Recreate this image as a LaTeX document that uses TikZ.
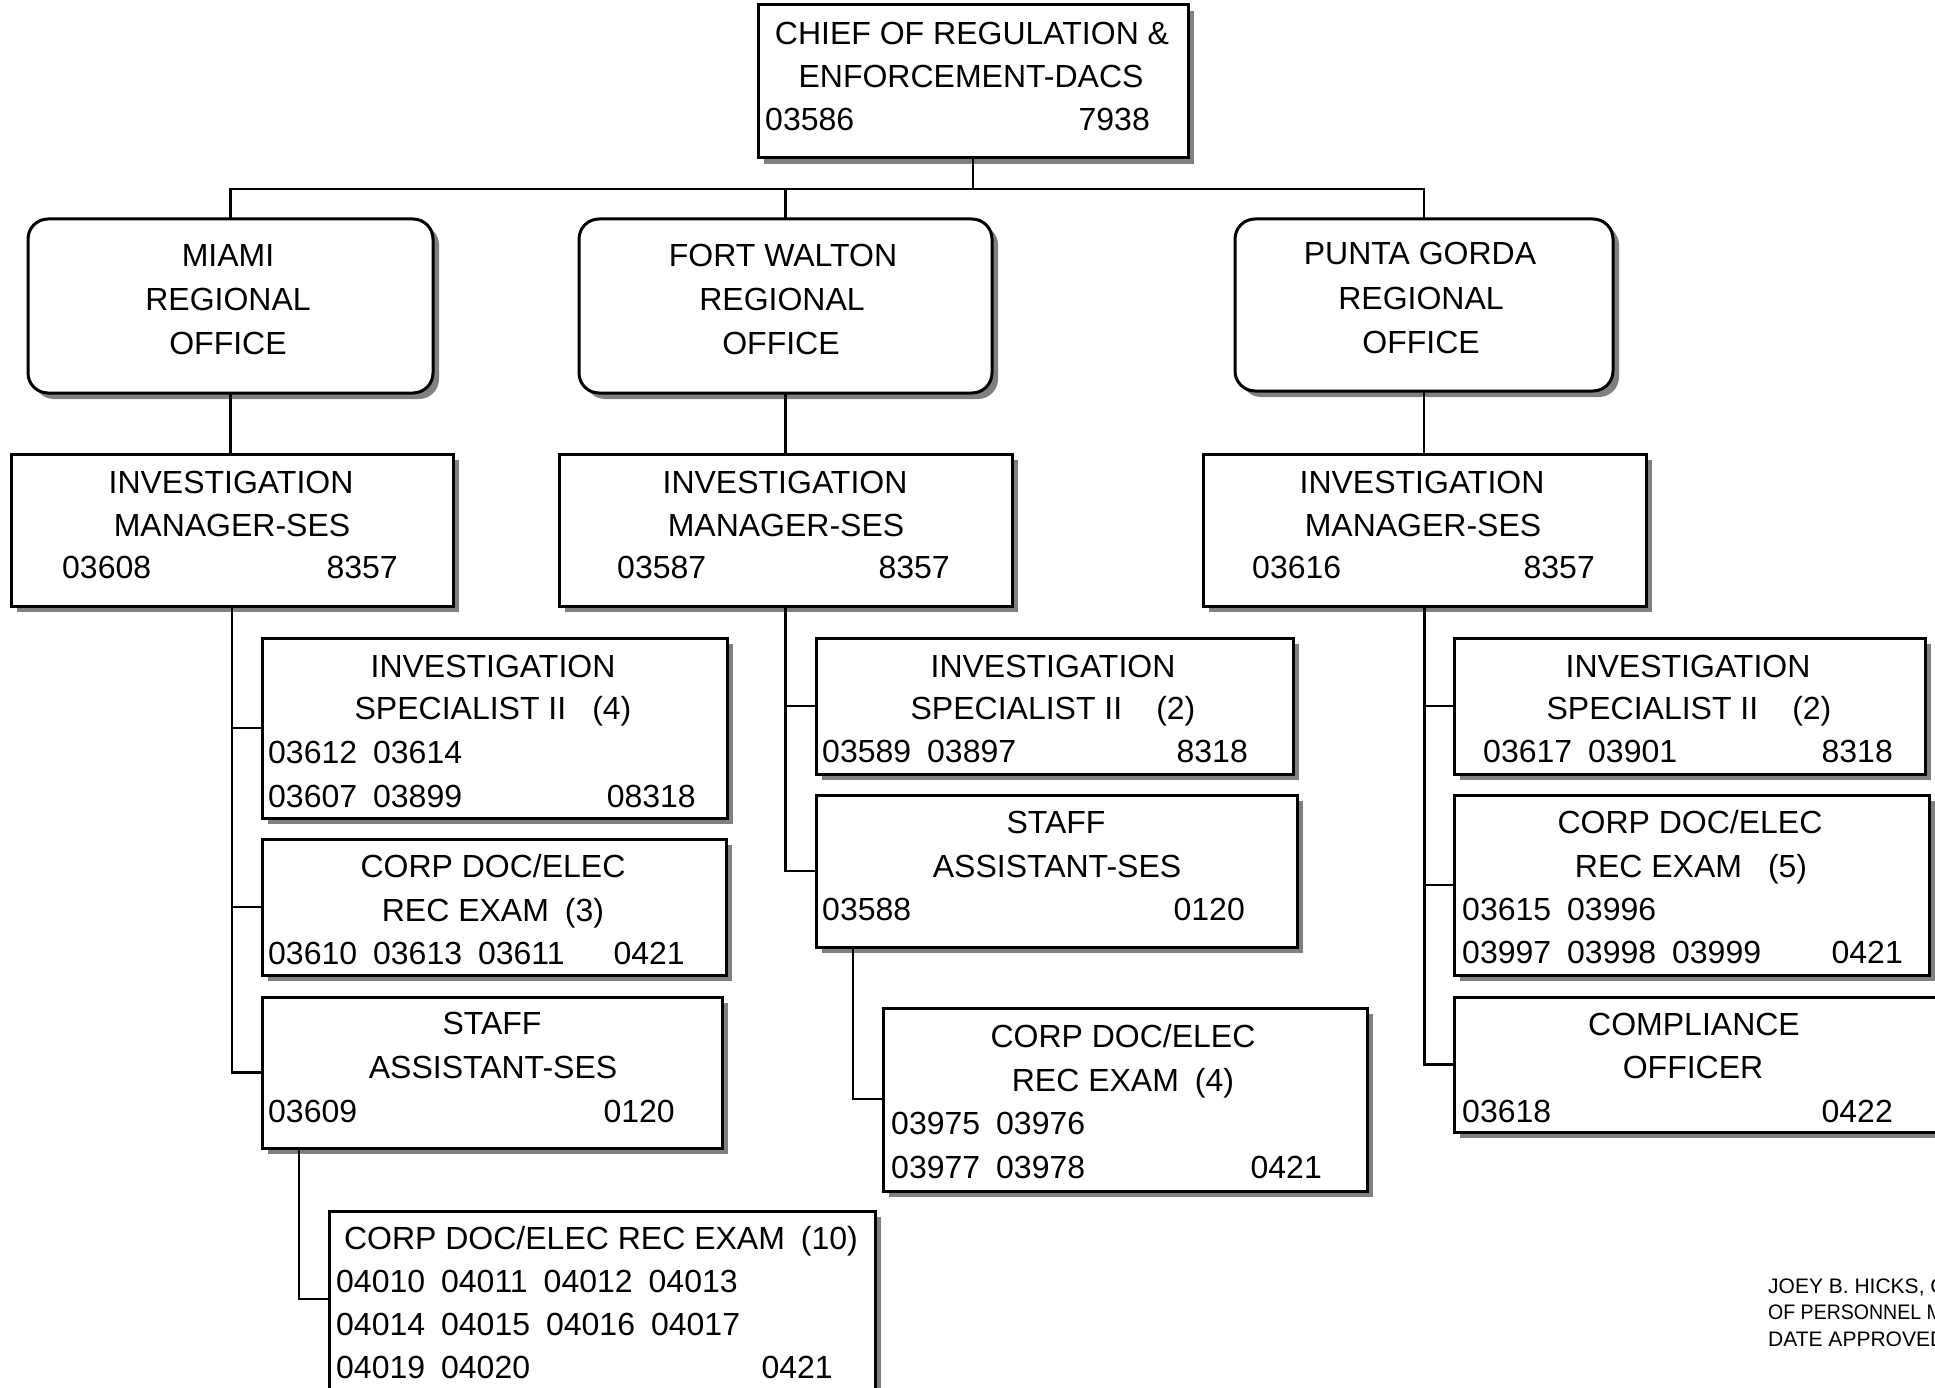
\documentclass[tikz,border=0pt]{standalone}
\usepackage{fontspec}
\setmainfont{Liberation Sans}
\usetikzlibrary{shadows}

\newcommand\orgfont{\fontsize{32}{38}\selectfont}
\newcommand\notefont{\fontsize{21}{25}\selectfont}
\newcommand\gap{\hspace{16pt}}

\tikzset{
  box/.style={rectangle, draw=black, line width=3pt, fill=white,
    inner sep=0pt, outer sep=0pt, anchor=north west,
    drop shadow={shadow xshift=6pt, shadow yshift=-6pt, fill=black!50, opacity=1}},
  rbox/.style={box, rounded corners=20pt},
  conn/.style={draw=black, line width=2.6pt},
  ttl/.style={anchor=base, inner sep=0pt, font=\orgfont},
  codel/.style={anchor=base west, inner sep=0pt, font=\orgfont},
  coder/.style={anchor=base east, inner sep=0pt, font=\orgfont},
  signoff/.style={anchor=base west, inner sep=0pt, font=\notefont},
}

\begin{document}
\begin{tikzpicture}[x=1pt, y=-1pt]
\fill[white] (0,0) rectangle (1935,1388);
\useasboundingbox (0,0) rectangle (1935,1388);

% ---------- boxes ----------
\node[box,  minimum width=430pt, minimum height=153pt] (chief)   at (758,5) {};
\node[rbox, minimum width=405pt, minimum height=174pt] (miamiR)  at (28,219) {};
\node[rbox, minimum width=413pt, minimum height=174pt] (fwR)     at (579,219) {};
\node[rbox, minimum width=378pt, minimum height=172pt] (pgR)     at (1235,219) {};
\node[box,  minimum width=442pt, minimum height=152pt] (miamiM)  at (11,454) {};
\node[box,  minimum width=453pt, minimum height=152pt] (fwM)     at (559,454) {};
\node[box,  minimum width=443pt, minimum height=152pt] (pgM)     at (1203,454) {};
\node[box,  minimum width=465pt, minimum height=180pt] (specM)   at (262,638) {};
\node[box,  minimum width=464pt, minimum height=136pt] (corpM)   at (262,839) {};
\node[box,  minimum width=460pt, minimum height=151pt] (staffM)  at (262,997) {};
\node[box,  minimum width=546pt, minimum height=219pt] (corpTen) at (329,1211) {};
\node[box,  minimum width=477pt, minimum height=136pt] (specF)   at (816,638) {};
\node[box,  minimum width=481pt, minimum height=152pt] (staffF)  at (816,795) {};
\node[box,  minimum width=484pt, minimum height=183pt] (corpF)   at (883,1008) {};
\node[box,  minimum width=471pt, minimum height=136pt] (specP)   at (1454,638) {};
\node[box,  minimum width=475pt, minimum height=180pt] (corpP)   at (1454,795) {};
\node[box,  minimum width=496pt, minimum height=135pt] (compP)   at (1454,997) {};

% ---------- junction points ----------
\coordinate (bus) at (973,189);
\coordinate (jM) at (299,1299);
\coordinate (jF) at (853,1099);

% ---------- connectors ----------
\draw[conn] (chief.south) -- (chief.south |- bus);
\draw[conn] (miamiR.north) |- (bus) -| (pgR.north);
\draw[conn] (fwR.north) -- (fwR.north |- bus);
\draw[conn] (miamiR.south) -- (miamiR.south |- miamiM.north);
\draw[conn] (fwR.south) -- (fwR.south |- fwM.north);
\draw[conn] (pgR.south) -- (pgR.south |- pgM.north);

\draw[conn] (miamiM.south) |- (staffM.west);
\draw[conn] (miamiM.south |- specM.west) -- (specM.west);
\draw[conn] (miamiM.south |- corpM.west) -- (corpM.west);
\draw[conn] (staffM.south -| jM) -- (jM) -- (corpTen.west |- jM);

\draw[conn] (fwM.south) |- (staffF.west);
\draw[conn] (fwM.south |- specF.west) -- (specF.west);
\draw[conn] (staffF.south -| jF) -- (jF) -- (corpF.west |- jF);

\draw[conn] (pgM.south) |- (compP.west);
\draw[conn] (pgM.south |- specP.west) -- (specP.west);
\draw[conn] (pgM.south |- corpP.west) -- (corpP.west);

% ---------- texts ----------
% chief
\node[ttl] (chiefA) at (972,45) {CHIEF OF REGULATION \&};
\node[ttl] (chiefB) at (971,88) {ENFORCEMENT-DACS};
\node[codel] (chiefN) at (765,131) {03586};
\node[coder] (chiefC) at (1150,131) {7938};

% regional offices
\node[ttl] (miamiA) at (228,267) {MIAMI};
\node[ttl] (miamiB) at (228,310) {REGIONAL};
\node[ttl] (miamiC) at (228,354) {OFFICE};
\node[ttl] (fwA) at (783,267) {FORT WALTON};
\node[ttl] (fwB) at (782,310) {REGIONAL};
\node[ttl] (fwC) at (781,354) {OFFICE};
\node[ttl] (pgA) at (1420,265) {PUNTA GORDA};
\node[ttl] (pgB) at (1421,309) {REGIONAL};
\node[ttl] (pgC) at (1421,353) {OFFICE};

% managers
\node[ttl] (miamiMA) at (231,493) {INVESTIGATION};
\node[ttl] (miamiMB) at (232,536) {MANAGER-SES};
\node[codel] (miamiMN) at (62,578) {03608};
\node[coder] (miamiMC) at (398,578) {8357};
\node[ttl] (fwMA) at (785,493) {INVESTIGATION};
\node[ttl] (fwMB) at (786,536) {MANAGER-SES};
\node[codel] (fwMN) at (617,578) {03587};
\node[coder] (fwMC) at (950,578) {8357};
\node[ttl] (pgMA) at (1422,493) {INVESTIGATION};
\node[ttl] (pgMB) at (1423,536) {MANAGER-SES};
\node[codel] (pgMN) at (1252,578) {03616};
\node[coder] (pgMC) at (1595,578) {8357};

% Miami units
\node[ttl] (specMA) at (493,677) {INVESTIGATION};
\node[ttl] (specMB) at (493,719) {SPECIALIST II\hspace{26pt}(4)};
\node[codel] (specMN) at (268,763) {03612\gap03614};
\node[codel] (specMM) at (268,807) {03607\gap03899};
\node[coder] (specMC) at (696,807) {08318};

\node[ttl] (corpMA) at (493,877) {CORP DOC/ELEC};
\node[ttl] (corpMB) at (493,921) {REC EXAM\gap(3)};
\node[codel] (corpMN) at (268,964) {03610\gap03613\gap03611};
\node[coder] (corpMC) at (685,964) {0421};

\node[ttl] (staffMA) at (492,1034) {STAFF};
\node[ttl] (staffMB) at (493,1078) {ASSISTANT-SES};
\node[codel] (staffMN) at (268,1122) {03609};
\node[coder] (staffMC) at (675,1122) {0120};

\node[ttl] (corpTenA) at (601,1249) {CORP DOC/ELEC REC EXAM\gap(10)};
\node[codel] (corpTenN) at (336,1292) {04010\gap04011\gap04012\gap04013};
\node[codel] (corpTenM) at (336,1335) {04014\gap04015\gap04016\gap04017};
\node[codel] (corpTenL) at (336,1378) {04019\gap04020};
\node[coder] (corpTenC) at (833,1378) {0421};

% Fort Walton units
\node[ttl] (specFA) at (1053,677) {INVESTIGATION};
\node[ttl] (specFB) at (1053,719) {SPECIALIST II\hspace{34pt}(2)};
\node[codel] (specFN) at (822,762) {03589\gap03897};
\node[coder] (specFC) at (1248,762) {8318};

\node[ttl] (staffFA) at (1056,833) {STAFF};
\node[ttl] (staffFB) at (1057,877) {ASSISTANT-SES};
\node[codel] (staffFN) at (822,920) {03588};
\node[coder] (staffFC) at (1245,920) {0120};

\node[ttl] (corpFA) at (1123,1047) {CORP DOC/ELEC};
\node[ttl] (corpFB) at (1123,1091) {REC EXAM\gap(4)};
\node[codel] (corpFN) at (891,1134) {03975\gap03976};
\node[codel] (corpFM) at (891,1178) {03977\gap03978};
\node[coder] (corpFC) at (1322,1178) {0421};

% Punta Gorda units
\node[ttl] (specPA) at (1688,677) {INVESTIGATION};
\node[ttl] (specPB) at (1689,719) {SPECIALIST II\hspace{34pt}(2)};
\node[codel] (specPN) at (1483,762) {03617\gap03901};
\node[coder] (specPC) at (1893,762) {8318};

\node[ttl] (corpPA) at (1690,833) {CORP DOC/ELEC};
\node[ttl] (corpPB) at (1691,877) {REC EXAM\hspace{26pt}(5)};
\node[codel] (corpPN) at (1462,920) {03615\gap03996};
\node[codel] (corpPM) at (1462,963) {03997\gap03998\gap03999};
\node[coder] (corpPC) at (1903,963) {0421};

\node[ttl] (compPA) at (1694,1035) {COMPLIANCE};
\node[ttl] (compPB) at (1693,1078) {OFFICER};
\node[codel] (compPN) at (1462,1122) {03618};
\node[coder] (compPC) at (1893,1122) {0422};

% approval note
\node[signoff] (footA) at (1768,1293) {JOEY B. HICKS, CHIEF};
\node[signoff, xscale=0.93, transform shape] (footB) at (1768,1319) {OF PERSONNEL MANAGEMENT};
\node[signoff] (footC) at (1768,1346) {DATE APPROVED};
\end{tikzpicture}
\end{document}
